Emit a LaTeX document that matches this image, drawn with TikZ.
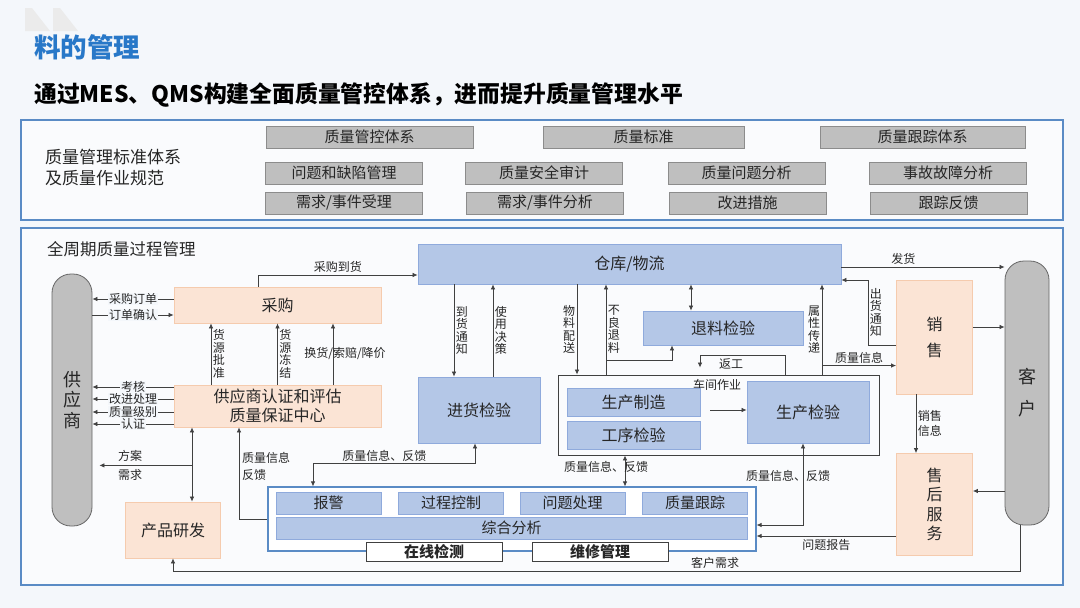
\documentclass[tikz,border=0pt]{standalone}
\usepackage{fontspec}
\setmainfont{Noto Sans CJK SC}
\usetikzlibrary{arrows.meta,positioning}
\definecolor{ZLpozadina}{HTML}{F4F7FB}
\definecolor{ZLokvir}{HTML}{5A8BC5}
\definecolor{ZLnaslov}{HTML}{2878C8}
\definecolor{ZLsiva}{HTML}{BFBFBF}
\definecolor{ZLsivarub}{HTML}{8C8C8C}
\definecolor{ZLbreskva}{HTML}{FBE4D5}
\definecolor{ZLbreskvarub}{HTML}{F5CBAE}
\definecolor{ZLplava}{HTML}{B4C7E7}
\definecolor{ZLplavarub}{HTML}{8FAADC}
\definecolor{ZLcrta}{HTML}{404040}
\colorlet{ZLtekst}{black!85}
\begin{document}
\begin{tikzpicture}[x=1pt,y=-1pt,font=\fontsize{12}{13}\selectfont,text=ZLtekst,
 ZLsivi/.style={draw=ZLsivarub,fill=ZLsiva,line width=.8pt,inner sep=0pt,minimum height=22pt,font=\fontsize{15}{16}\selectfont},
 ZLnar/.style={draw=ZLbreskvarub,fill=ZLbreskva,line width=.8pt,inner sep=0pt,align=center,font=\fontsize{16}{19}\selectfont},
 ZLpla/.style={draw=ZLplavarub,fill=ZLplava,line width=.8pt,inner sep=0pt,align=center,font=\fontsize{16}{19}\selectfont},
 ZLmes/.style={ZLpla,minimum height=22pt,font=\fontsize{15}{16}\selectfont},
 ZLkap/.style={draw=ZLcrta!80,fill=ZLsiva,line width=.8pt,rounded corners=19pt,inner sep=0pt,align=center,font=\fontsize{18}{20.5}\selectfont},
 ZLokv/.style={draw=ZLokvir,line width=1.3pt},
 ZLoz/.style={fill=ZLpozadina,inner sep=.6pt},
 ZLv/.style={align=center,font=\fontsize{12}{12.6}\selectfont,inner sep=1.5pt},
 jt/.style={draw=ZLcrta,line width=.75pt,-{Latex[length=5pt,width=4.5pt]}},
 tj/.style={draw=ZLcrta,line width=.75pt,{Latex[length=5pt,width=4.5pt]}-},
 jtj/.style={draw=ZLcrta,line width=.75pt,{Latex[length=5pt,width=4.5pt]}-{Latex[length=5pt,width=4.5pt]}}]
\fill[ZLpozadina] (0,0) rectangle (1080,608);
\useasboundingbox (0,0) rectangle (1080,608);
\fill[black!8] (25,8) -- (32,8) -- (50,31) -- (25,31) -- cycle;
\fill[black!8] (53,8) -- (60,8) -- (78,31) -- (53,31) -- cycle;
\node[anchor=west,inner sep=0pt,text=ZLnaslov,font=\fontsize{26.5}{28}\selectfont\bfseries] (naslov) at (34,47) {料的管理};
\node[anchor=west,inner sep=0pt,text=black,font=\fontsize{22.8}{24}\selectfont\bfseries] (podnaslov) at (34,95) {通过MES、QMS构建全面质量管控体系，进而提升质量管理水平};
\draw[ZLokv,fill=white!50!ZLpozadina] (21,120) rectangle (1063,220);
\node[anchor=west,align=left,inner sep=0pt,font=\fontsize{17}{21}\selectfont] (standard) at (45,167) {质量管理标准体系\\及质量作业规范};
\foreach \x/\w/\lab [count=\i] in {369.5/207/质量管控体系,643.5/201/质量标准,922.5/205/质量跟踪体系}{\node[ZLsivi,minimum width=\w pt] (s\i) at (\x,137) {\lab};}
\foreach \x/\lab [count=\i] in {344/问题和缺陷管理,544/质量安全审计,746.5/质量问题分析,948/事故故障分析}{\node[ZLsivi,minimum width=157pt] (p\i) at (\x,173) {\lab};}
\foreach \x/\lab [count=\i] in {344/{需求/事件受理},545/{需求/事件分析},747.5/改进措施,948.5/跟踪反馈}{\node[ZLsivi,minimum width=157pt] (r\i) at (\x,203) {\lab};}
\draw[ZLokv,fill=white!50!ZLpozadina] (21,228) rectangle (1063,585);
\node[anchor=west,inner sep=0pt,font=\fontsize{16.5}{18}\selectfont] (ciklus) at (47,249) {全周期质量过程管理};
\node[ZLkap,minimum width=40pt,minimum height=252pt] (gys) at (72,400) {供\\应\\商};
\node[ZLkap,minimum width=44pt,minimum height=264pt,font=\fontsize{18}{32}\selectfont] (kh) at (1027,393) {客\\户};
\node[ZLnar,minimum width=207pt,minimum height=36pt] (cg) at (277.5,305) {采购};
\node[ZLnar,minimum width=207pt,minimum height=42pt] (rz) at (277.5,406) {供应商认证和评估\\质量保证中心};
\node[ZLnar,minimum width=95pt,minimum height=56pt] (yf) at (173,530) {产品研发};
\node[ZLpla,minimum width=423pt,minimum height=40pt] (ck) at (629.5,264) {仓库/物流};
\node[ZLpla,minimum width=122pt,minimum height=66pt] (jh) at (479,410) {进货检验};
\node[ZLpla,minimum width=160pt,minimum height=34pt] (tl) at (723,328) {退料检验};
\node[draw=ZLcrta,line width=.9pt,minimum width=321pt,minimum height=80pt,inner sep=0pt] (cj) at (718.5,415) {};
\node[inner sep=0pt] (cjzy) at (717,385) {车间作业};
\node[ZLpla,minimum width=133pt,minimum height=28pt] (zz) at (633.5,402) {生产制造};
\node[ZLpla,minimum width=133pt,minimum height=28pt] (gx) at (633.5,435) {工序检验};
\node[ZLpla,minimum width=122pt,minimum height=62pt] (sj) at (808,412) {生产检验};
\node[ZLnar,minimum width=76pt,minimum height=114pt,font=\fontsize{16}{26}\selectfont] (xs) at (934.5,337) {销\\售};
\node[ZLnar,minimum width=76pt,minimum height=102pt,font=\fontsize{16}{19.5}\selectfont] (sh) at (934.5,504.5) {售\\后\\服\\务};
\node[draw=ZLokvir,fill=white,line width=1.1pt,minimum width=488pt,minimum height=64pt,inner sep=0pt] (mes) at (512,519) {};
\foreach \x/\lab [count=\i] in {328.5/报警,451/过程控制,572.5/问题处理,695/质量跟踪}{\node[ZLmes,minimum width=105pt] (m\i) at (\x,503) {\lab};}
\node[ZLmes,minimum width=471pt] (zh) at (511.5,528) {综合分析};
\foreach \x/\lab [count=\i] in {434/在线检测,600/维修管理}{\node[draw=ZLcrta,fill=white,line width=.8pt,minimum width=136pt,minimum height=19pt,inner sep=0pt,font=\fontsize{15}{16}\selectfont\bfseries] (w\i) at (\x,551.5) {\lab};}
\draw[jt] ([yshift=6pt]cg.west) coordinate (a) -- (a -| gys.east) node[ZLoz,midway] (cgdd) {采购订单};
\draw[tj] ([yshift=-10pt]cg.west) coordinate (a) -- (a -| gys.east) node[ZLoz,midway] (ddqr) {订单确认};
\foreach \dy/\lab [count=\i] in {19/考核,7/改进处理,-6/质量级别,-18/认证}{\draw[jt] ([yshift=\dy pt]rz.west) coordinate (a) -- (a -| gys.east) node[ZLoz,midway] (gl\i) {\lab};}
\draw[jt] ([xshift=-66.5pt]rz.north) -- ([xshift=-66.5pt]cg.south) node[ZLv,midway,right] (hypz) {货\\源\\批\\准};
\draw[jt] (rz.north) -- (cg.south) node[ZLv,midway,right] (hydj) {货\\源\\冻\\结};
\draw[jt] ([xshift=55.5pt]rz.north) -- ([xshift=55.5pt]cg.south) node[midway,xshift=12pt] (hhsp) {换货/索赔/降价};
\draw[jt] ([xshift=-19.5pt]cg.north) |- ([yshift=-11pt]ck.west) node[pos=.75,above,inner sep=2pt] (cgdh) {采购到货};
\draw[jt] ([xshift=-175.5pt]ck.south) -- ([xshift=-25pt]jh.north) node[ZLv,midway,right] (dhtz) {到\\货\\通\\知};
\draw[tj] ([xshift=-136.5pt]ck.south) -- ([xshift=14pt]jh.north) node[ZLv,midway,right] (syjc) {使\\用\\决\\策};
\draw[jt] ([xshift=-52.5pt]ck.south) -- ([xshift=-141.5pt]cj.north) node[ZLv,midway,left] (wlps) {物\\料\\配\\送};
\draw[tj] ([xshift=-23.5pt]ck.south) -- ([xshift=-112.5pt]cj.north) node[ZLv,midway,right] (blth) {不\\良\\退\\料};
\draw[jt] ([xshift=-112.5pt,yshift=14pt]cj.north) -| ([xshift=-51pt]tl.south);
\draw[jtj] ([xshift=61.5pt]ck.south) -- ([xshift=-32pt]tl.north);
\draw[tj] ([xshift=192.5pt]ck.south) -- ([xshift=103.5pt]cj.north) node[ZLv,midway,left] (sxcd) {属\\性\\传\\递};
\draw[jt] ([xshift=103.5pt,yshift=9pt]cj.north) coordinate (a) -- (a -| xs.west) node[midway,above,inner sep=2pt] (zlxs) {质量信息};
\draw[jt] ([xshift=66.5pt]cj.north) -- ++(0,-19) -| ([xshift=-18.5pt,yshift=7pt]cj.north);
\node[inner sep=0pt] (fg) at (731,364) {返工};
\draw[jt] ([xshift=10pt,yshift=-8pt]zz.east) -- ([yshift=2pt]sj.west);
\draw[jt] ([yshift=-8pt]xs.west) -- ++(-28,0) |- ([yshift=-16pt]ck.east) node[ZLv,pos=.25,right] (chtz) {出\\货\\通\\知};
\draw[jt] ([yshift=-3pt]ck.east) coordinate (a) -- (a -| kh.west) node[pos=.38,above,inner sep=2pt] (fh) {发货};
\draw[jt] ([yshift=10pt]xs.east) coordinate (a) -- (a -| kh.west);
\draw[jt] ([xshift=-18.5pt]xs.south) -- ([xshift=-18.5pt]sh.north) node[ZLv,midway,right,font=\fontsize{12}{15}\selectfont] (xsxx) {销售\\信息};
\draw[tj] ([yshift=13.5pt]sh.east) coordinate (a) -- (a -| kh.west);
\draw[jt] ([yshift=-31.5pt]sh.west) coordinate (a) -- (a -| mes.east) node[midway,below,inner sep=3pt] (wtbg) {问题报告};
\draw[jtj] ([xshift=-5pt]sj.south) |- ([yshift=-6pt]mes.east);
\node[inner sep=0pt] (fk3) at (788,476) {质量信息、反馈};
\draw[jtj] ([xshift=-93.5pt]cj.south) -- ([xshift=113pt]mes.north) node[midway,xshift=-19pt,yshift=4pt] (fk2) {质量信息、反馈};
\draw[jtj] ([xshift=-4pt]jh.south) -- ++(0,20) -| ([xshift=-199pt]mes.north) node[pos=.28,above,inner sep=2pt] (fk1) {质量信息、反馈};
\draw[tj] ([xshift=-38.5pt]rz.south) |- (mes.west);
\node[anchor=west,align=left,inner sep=2pt,font=\fontsize{12}{17}\selectfont] (zlfk) at (240,466) {质量信息\\反馈};
\draw[jtj] ([xshift=-85.5pt]rz.south) -- ([xshift=19pt]yf.north);
\draw[jt,shorten >=7pt] ([xshift=-85.5pt,yshift=-38pt]rz.south) coordinate (a) -- (a -| gys.east) node[pos=.62,above] (fa) {方案} node[pos=.62,below] (xq) {需求};
\draw[jt] ([xshift=-7pt]kh.south) -- ++(0,46) -| (yf.south) node[pos=.18,above,inner sep=2pt] (khxq) {客户需求};
\end{tikzpicture}
\end{document}
